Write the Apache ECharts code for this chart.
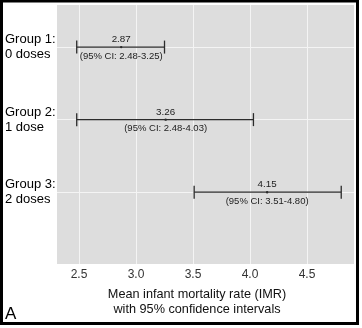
<!DOCTYPE html>
<html>
<head>
<meta charset="utf-8">
<script src="https://cdn.jsdelivr.net/npm/echarts@6/dist/echarts.min.js"></script>
<style>html,body{margin:0;padding:0;background:#fff;}#c{width:362px;height:328px;}</style>
</head>
<body>
<div id="c"></div>
<script>
const groupLabels = ['Group 1:\n0 doses', 'Group 2:\n1 dose', 'Group 3:\n2 doses'];
const groupPos = [1, 2, 3];
const means = [2.87, 3.26, 4.15];
const lows = [2.48, 2.48, 3.51];
const highs = [3.25, 4.03, 4.80];
const xTicks = [2.5, 3.0, 3.5, 4.0, 4.5];
const xTitle = 'Mean infant mortality rate (IMR)\nwith 95% confidence intervals';
const panelLabel = 'A';

const data = means.map((m, i) => [m, groupPos[i], lows[i], highs[i]]);
const FONT = 'Liberation Sans, Arial, sans-serif';

const chart = echarts.init(document.getElementById('c'), null, {renderer: 'canvas'});
chart.setOption({
  animation: false,
  backgroundColor: '#fff',
  grid: {left: 57, right: 8, top: 5, bottom: 64, show: true, backgroundColor: '#dddddd', borderWidth: 0},
  xAxis: {
    type: 'value', min: 2.307, max: 4.912,
    axisLine: {show: false},
    axisTick: {show: false, customValues: xTicks},
    axisLabel: {customValues: xTicks, formatter: v => v.toFixed(1), fontSize: 12, color: '#333', margin: 5, fontFamily: FONT},
    splitLine: {show: true, lineStyle: {color: '#f4f4f4', width: 1}}
  },
  yAxis: {
    type: 'value', inverse: true, min: 0.42, max: 3.99,
    axisLine: {show: false},
    axisTick: {show: false, customValues: groupPos},
    axisLabel: {
      customValues: groupPos,
      formatter: v => groupLabels[groupPos.indexOf(Math.round(v))] || '',
      align: 'left', margin: 52, fontSize: 13, lineHeight: 15, color: '#000', fontFamily: FONT
    },
    splitLine: {show: true, lineStyle: {color: '#f4f4f4', width: 1}}
  },
  series: [{
    type: 'custom',
    data: data,
    encode: {x: 0, y: 1},
    renderItem: function (params, api) {
      const m = api.value(0), g = api.value(1), lo = api.value(2), hi = api.value(3);
      const pL = api.coord([lo, g]), pH = api.coord([hi, g]), pM = api.coord([m, g]);
      const cap = 6.5;
      const st = {stroke: '#2b2b2b', lineWidth: 1.3};
      return {
        type: 'group',
        children: [
          {type: 'line', shape: {x1: pL[0], y1: pL[1], x2: pH[0], y2: pH[1]}, style: st},
          {type: 'line', shape: {x1: pL[0], y1: pL[1] - cap, x2: pL[0], y2: pL[1] + cap}, style: st},
          {type: 'line', shape: {x1: pH[0], y1: pH[1] - cap, x2: pH[0], y2: pH[1] + cap}, style: st},
          {type: 'circle', shape: {cx: pM[0], cy: pM[1], r: 1.2}, style: {fill: '#2b2b2b'}},
          {type: 'text', x: pM[0], y: pM[1] - 7.5, style: {text: m.toFixed(2), fill: '#222', fontSize: 9.8, fontFamily: FONT, align: 'center', verticalAlign: 'middle'}},
          {type: 'text', x: pM[0], y: pM[1] + 9, style: {text: '(95% CI: ' + lo.toFixed(2) + '-' + hi.toFixed(2) + ')', fill: '#222', fontSize: 9.5, fontFamily: FONT, align: 'center', verticalAlign: 'middle'}}
        ]
      };
    }
  }],
  graphic: [
    {type: 'text', x: 197, y: 287, style: {text: xTitle, fontSize: 12.7, lineHeight: 15, fill: '#111', fontFamily: FONT, align: 'center', verticalAlign: 'top'}},
    {type: 'text', x: 5, y: 306, style: {text: panelLabel, fontSize: 17, fill: '#000', fontFamily: FONT}},
    {type: 'rect', shape: {x: 1.5, y: 1, width: 356, height: 322.5}, style: {fill: 'none', stroke: '#000', lineWidth: 3}, silent: true}
  ]
});
</script>
</body>
</html>
